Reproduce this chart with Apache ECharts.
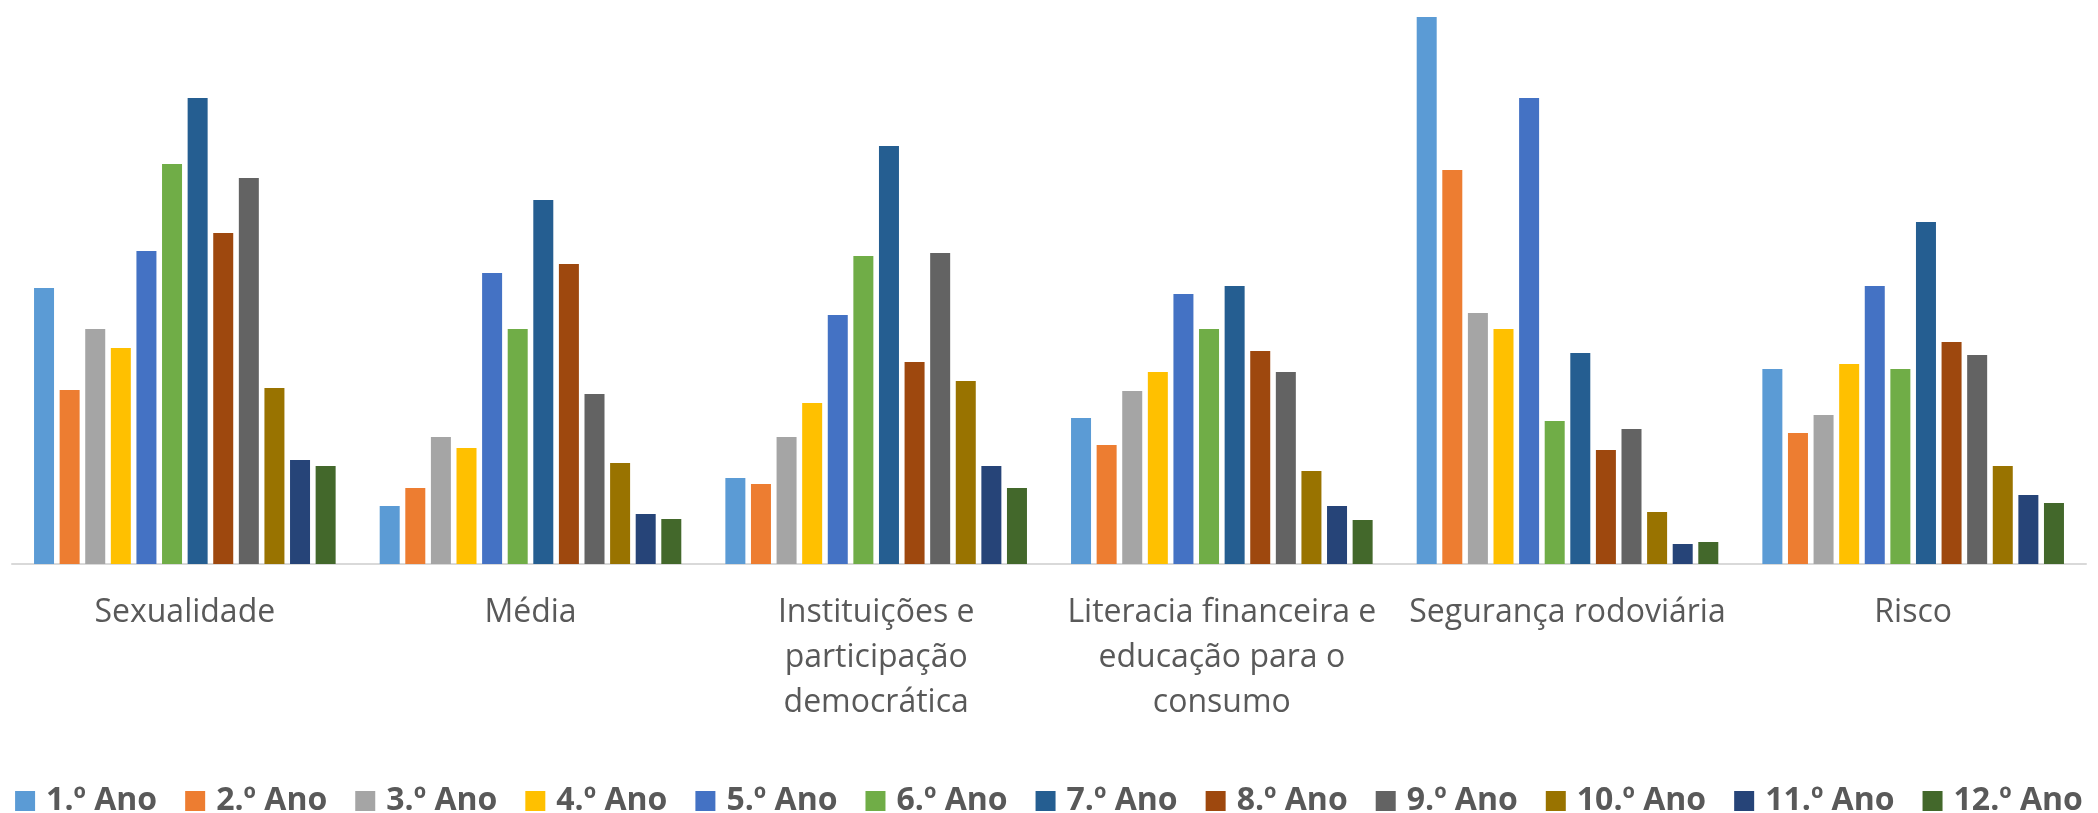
<!DOCTYPE html>
<html>
<head>
<meta charset="utf-8">
<script src="https://cdn.jsdelivr.net/npm/echarts@6/dist/echarts.min.js"></script>
<style>
  html, body { margin: 0; padding: 0; background: #fff; }
  #chart { width: 2098px; height: 813px; }
</style>
</head>
<body>
<div id="chart"></div>
<script>
// categorias (temas), com as quebras de linha do original
const temas = [
  "Sexualidade",
  "Média",
  "Instituições e\nparticipação\ndemocrática",
  "Literacia financeira e\neducação para o\nconsumo",
  "Segurança rodoviária",
  "Risco"
];

const anos = ["1.º Ano", "2.º Ano", "3.º Ano", "4.º Ano", "5.º Ano", "6.º Ano",
  "7.º Ano", "8.º Ano", "9.º Ano", "10.º Ano", "11.º Ano", "12.º Ano"];

// valores, pela ordem dos temas
const ano1 = [276, 58, 86, 146, 547, 195];
const ano2 = [174, 76, 80, 119, 394, 131];
const ano3 = [235, 127, 127, 173, 251, 149];
const ano4 = [216, 116, 161, 192, 235, 200];
const ano5 = [313, 291, 249, 270, 466, 278];
const ano6 = [400, 235, 308, 235, 143, 195];
const ano7 = [466, 364, 418, 278, 211, 342];
const ano8 = [331, 300, 202, 213, 114, 222];
const ano9 = [386, 170, 311, 192, 135, 209];
const ano10 = [176, 101, 183, 93, 52, 98];
const ano11 = [104, 50, 98, 58, 20, 69];
const ano12 = [98, 45, 76, 44, 22, 61];

const valores = [ano1, ano2, ano3, ano4, ano5, ano6, ano7, ano8, ano9, ano10, ano11, ano12];

const cores = ["#5B9BD5", "#ED7D31", "#A5A5A5", "#FFC000", "#4472C4", "#70AD47",
  "#255E91", "#9E480E", "#636363", "#997300", "#264478", "#43682B"];

const myChart = echarts.init(document.getElementById("chart"));

const option = {
  animation: false,
  color: cores,
  textStyle: { fontFamily: "Open Sans" },
  legend: {
    top: 783,
    left: "center",
    padding: 0,
    itemWidth: 20,
    itemHeight: 20,
    itemGap: 28,
    icon: "rect",
    textStyle: {
      fontSize: 32,
      lineHeight: 36,
      fontWeight: "bold",
      color: "#595959",
      fontFamily: "Open Sans",
      padding: [0, 0, 0, 6]
    }
  },
  grid: {
    left: 12,
    right: 12,
    top: 16,
    bottom: 249
  },
  xAxis: {
    type: "category",
    data: temas,
    axisLine: { lineStyle: { color: "#d9d9d9", width: 2 } },
    axisTick: { show: false },
    axisLabel: {
      interval: 0,
      margin: 26,
      fontSize: 32,
      lineHeight: 45,
      color: "#595959"
    }
  },
  yAxis: {
    type: "value",
    min: 0,
    max: 548,
    show: false,
    splitLine: { show: false }
  },
  series: anos.map((nome, i) => ({
    name: nome,
    type: "bar",
    data: valores[i],
    barWidth: 20,
    barGap: "28%",
    itemStyle: { color: cores[i] }
  }))
};

myChart.setOption(option);
</script>
</body>
</html>
